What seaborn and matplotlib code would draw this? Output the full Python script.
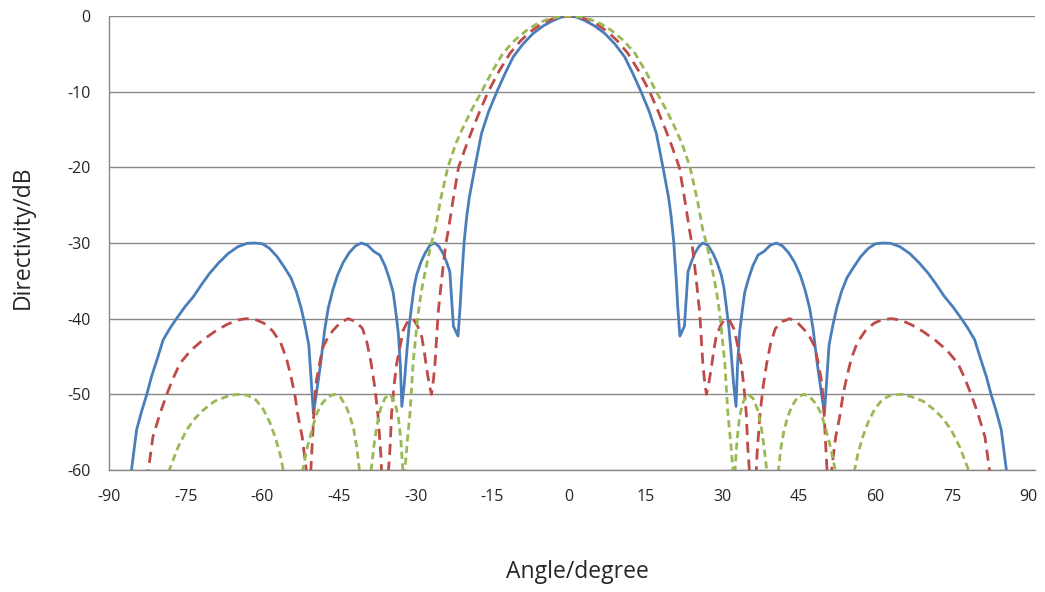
import numpy as np
import pandas as pd
import matplotlib
matplotlib.use("Agg")
import matplotlib.pyplot as plt
import seaborn as sns

# blue solid, -30 dB sidelobes
blue_deg = [-89, -85.6, -84.6, -83.6, -82.6, -81.7, -80.5, -79.4, -78.1, -76.8, -75.1, -73.5,
            -71.9, -70.3, -68.5, -66.7, -64.8, -63, -61.5, -60, -58.6, -57.1, -55.7, -54.4,
            -53.3, -52.4, -51.6, -50.9, -50.5, -50, -49.4, -48.6, -47.8, -47.1, -46.2, -45.3,
            -44.2, -43, -41.8, -40.6, -39.4, -38.2, -37, -36, -35.2, -34.4, -33.9, -33.4,
            -33, -32.7, -32.2, -31.8, -31.3, -30.8, -30.3, -29.8, -29, -28.2, -27.2, -26.2,
            -25.4, -24.6, -23.9, -23.3, -23, -22.6, -21.7, -21.3, -21, -20.5, -20, -19.5,
            -18.4, -17.1, -15.7, -14.1, -12.5, -10.9, -9, -7, -5, -3.1, -1.5, 0,
            1.5, 3.1, 5, 7, 9, 10.9, 12.5, 14.1, 15.7, 17.1, 18.4, 19.5, 20, 20.5, 21, 21.3,
            21.7, 22.6, 23, 23.3, 23.9, 24.6, 25.4, 26.2, 27.2, 28.2, 29, 29.8, 30.3, 30.8,
            31.3, 31.8, 32.2, 32.7, 33, 33.4, 33.9, 34.4, 35.2, 36, 37, 38.2, 39.4, 40.6,
            41.8, 43, 44.2, 45.3, 46.2, 47.1, 47.8, 48.6, 49.4, 50, 50.5, 50.9, 51.6, 52.4,
            53.3, 54.4, 55.7, 57.1, 58.6, 60, 61.5, 63, 64.8, 66.7, 68.5, 70.3, 71.9, 73.5,
            75.1, 76.8, 78.1, 79.4, 80.5, 81.7, 82.6, 83.6, 84.6, 85.6, 89]
blue_db = [-75, -60, -54.7, -52.2, -50, -47.7, -45.2, -42.8, -41.3, -40, -38.4, -37.1,
           -35.5, -34, -32.6, -31.4, -30.5, -30.05, -30, -30.1, -30.7, -31.8, -33.2, -34.6,
           -36.5, -38.6, -41, -43.5, -47.5, -52.5, -49.8, -46, -41.5, -38.6, -36.2, -34.3,
           -32.6, -31.3, -30.4, -30, -30.3, -31.1, -31.6, -33, -34.6, -36.5, -39, -41.8,
           -46, -51.6, -48.5, -45, -41.2, -38.4, -35.8, -34.2, -32.6, -31.4, -30.3, -30,
           -30.5, -31.4, -32.6, -33.8, -37, -41, -42.3, -38.5, -34.9, -29.8, -26.5, -24,
           -20, -15.5, -12.6, -10, -7.6, -5.4, -3.7, -2.3, -1.3, -0.6, -0.15, 0,
           -0.15, -0.6, -1.3, -2.3, -3.7, -5.4, -7.6, -10, -12.6, -15.5, -20, -24, -26.5,
           -29.8, -34.9, -38.5, -42.3, -41, -37, -33.8, -32.6, -31.4, -30.5, -30, -30.3,
           -31.4, -32.6, -34.2, -35.8, -38.4, -41.2, -45, -48.5, -51.6, -46, -41.8, -39,
           -36.5, -34.6, -33, -31.6, -31.1, -30.3, -30, -30.4, -31.3, -32.6, -34.3, -36.2,
           -38.6, -41.5, -46, -49.8, -52.5, -47.5, -43.5, -41, -38.6, -36.5, -34.6, -33.2,
           -31.8, -30.7, -30.1, -30, -30.05, -30.5, -31.4, -32.6, -34, -35.5, -37.1, -38.4,
           -40, -41.3, -42.8, -45.2, -47.7, -50, -52.2, -54.7, -60, -75]

# red dashed, -40 dB sidelobes
red_deg = [-88, -82.3, -81.4, -80, -78.7, -77.4, -76.1, -74, -71.6, -69.3, -67, -65,
           -63.2, -61.4, -59.7, -58, -56.4, -55.3, -54.4, -53.6, -53, -52.2, -51.4, -50.9,
           -50.5, -49.8, -49.4, -48.7, -48.1, -47.1, -46.1, -44.7, -43.2, -41.7, -40.4, -39.5,
           -38.7, -38, -37.4, -36.8, -36.2, -35.3, -35, -34.7, -34.2, -33.7, -33, -32.4,
           -31.5, -30.5, -29.6, -28.8, -28.3, -27.8, -27.3, -26.9, -26.5, -26.2, -25.6, -25.1,
           -24.6, -24.1, -23.6, -22.6, -21.6, -20.3, -18.9, -17.4, -15.8, -13.6, -11.5, -9.5,
           -7.6, -5.5, -3.5, -1.7, 0,
           1.7, 3.5, 5.5, 7.6, 9.5, 11.5, 13.6, 15.8, 17.4, 18.9, 20.3, 21.6, 22.6, 23.6,
           24.1, 24.6, 25.1, 25.6, 26.2, 26.5, 26.9, 27.3, 27.8, 28.3, 28.8, 29.6, 30.5, 31.5,
           32.4, 33, 33.7, 34.2, 34.7, 35, 35.3, 36.2, 36.8, 37.4, 38, 38.7, 39.5, 40.4,
           41.7, 43.2, 44.7, 46.1, 47.1, 48.1, 48.7, 49.4, 49.8, 50.5, 50.9, 51.4, 52.2, 53,
           53.6, 54.4, 55.3, 56.4, 58, 59.7, 61.4, 63.2, 65, 67, 69.3, 71.6, 74, 76.1,
           77.4, 78.7, 80, 81.4, 82.3, 88]
red_db = [-75, -60, -55.6, -52.5, -50, -47.8, -45.9, -44.2, -42.8, -41.7, -40.8, -40.2,
          -40, -40.1, -40.6, -41.6, -43.2, -45.2, -47.6, -50.2, -52.9, -55.6, -60, -68,
          -60, -51, -48.1, -45.6, -43.7, -42.4, -41.5, -40.5, -40, -40.4, -41.3, -43.2,
          -45.9, -49, -52.5, -58, -68, -60, -57, -52.5, -48.7, -45.9, -43.5, -41.5,
          -40.3, -40, -41, -42.4, -44.4, -46.8, -48.8, -50, -48, -45.9, -39.3, -36,
          -33, -30.2, -28.3, -24, -20, -17.5, -15, -12.5, -10, -7.2, -4.9, -3.3,
          -2.1, -1.1, -0.45, -0.1, 0,
          -0.1, -0.45, -1.1, -2.1, -3.3, -4.9, -7.2, -10, -12.5, -15, -17.5, -20, -24, -28.3,
          -30.2, -33, -36, -39.3, -45.9, -48, -50, -48.8, -46.8, -44.4, -42.4, -41, -40, -40.3,
          -41.5, -43.5, -45.9, -48.7, -52.5, -57, -60, -68, -58, -52.5, -49, -45.9, -43.2, -41.3,
          -40.4, -40, -40.5, -41.5, -42.4, -43.7, -45.6, -48.1, -51, -60, -68, -60, -55.6, -52.9,
          -50.2, -47.6, -45.2, -43.2, -41.6, -40.6, -40.1, -40, -40.2, -40.8, -41.7, -42.8, -44.2, -45.9,
          -47.8, -50, -52.5, -55.6, -60, -75]

# green dashed, -50 dB sidelobes
green_deg = [-85, -78.2, -76.5, -74.8, -73.2, -71.6, -69.3, -67, -65, -63, -61.3, -59.8,
             -58.6, -57.5, -56.5, -55.9, -54, -52.1, -51.2, -50.3, -49.4, -48.3, -47.1, -45.9,
             -44.7, -43.6, -42.8, -42.1, -41.5, -41, -39.8, -38.7, -38.2, -37.6, -36.9, -36,
             -35, -34.1, -33.4, -32.9, -32.5, -32.3, -32.1, -31.6, -31.1, -30.5, -30, -29.5,
             -28.9, -28.2, -27.5, -26.9, -26.2, -25.1, -23.7, -22.1, -20.5, -18.8, -17.1, -15,
             -12.9, -10.6, -8.3, -6.3, -4.4, -2.2, 0,
             2.2, 4.4, 6.3, 8.3, 10.6, 12.9, 15, 17.1, 18.8, 20.5, 22.1, 23.7, 25.1, 26.2,
             26.9, 27.5, 28.2, 28.9, 29.5, 30, 30.5, 31.1, 31.6, 32.1, 32.3, 32.5, 32.9, 33.4,
             34.1, 35, 36, 36.9, 37.6, 38.2, 38.7, 39.8, 41, 41.5, 42.1, 42.8, 43.6, 44.7,
             45.9, 47.1, 48.3, 49.4, 50.3, 51.2, 52.1, 54, 55.9, 56.5, 57.5, 58.6, 59.8, 61.3,
             63, 65, 67, 69.3, 71.6, 73.2, 74.8, 76.5, 78.2, 85]
green_db = [-75, -60, -57, -54.7, -53.2, -52.1, -50.9, -50.3, -50, -50.1, -50.7, -52,
            -53.6, -55.6, -58, -60, -75, -60, -57, -54.7, -52.6, -51.2, -50.3, -50,
            -50.4, -51.6, -53, -54.7, -57, -60, -75, -60, -57, -54.2, -52, -50.5,
            -50, -51, -52.9, -56, -60, -70, -60, -56, -52.5, -45.9, -42.5, -39.3,
            -36.5, -34, -31.8, -30, -28.3, -24.2, -20, -16.8, -14.4, -12.1, -10, -7.3,
            -4.9, -3.2, -1.9, -1.05, -0.5, -0.12, 0,
            -0.12, -0.5, -1.05, -1.9, -3.2, -4.9, -7.3, -10, -12.1, -14.4, -16.8, -20, -24.2, -28.3,
            -30, -31.8, -34, -36.5, -39.3, -42.5, -45.9, -52.5, -56, -60, -70, -60, -56, -52.9,
            -51, -50, -50.5, -52, -54.2, -57, -60, -75, -60, -57, -54.7, -53, -51.6, -50.4,
            -50, -50.3, -51.2, -52.6, -54.7, -57, -60, -75, -60, -58, -55.6, -53.6, -52, -50.7,
            -50.1, -50, -50.3, -50.9, -52.1, -53.2, -54.7, -57, -60, -75]

x_ticks = [-90, -75, -60, -45, -30, -15, 0, 15, 30, 45, 60, 75, 90]
y_ticks = [-60, -50, -40, -30, -20, -10, 0]

df = pd.concat([
    pd.DataFrame({"angle": blue_deg, "db": blue_db, "series": "sll30"}),
    pd.DataFrame({"angle": red_deg, "db": red_db, "series": "sll40"}),
    pd.DataFrame({"angle": green_deg, "db": green_db, "series": "sll50"}),
], ignore_index=True)

sns.set_style("white")
plt.rcParams["font.family"] = ["Open Sans", "DejaVu Sans"]
plt.rcParams["axes.unicode_minus"] = False

fig = plt.figure(figsize=(10.45, 5.92), dpi=100)
ax = fig.add_axes([109 / 1045, 1 - 470 / 592, (1035 - 109) / 1045, (470 - 16) / 592])

palette = {"sll30": "#4A7EBB", "sll40": "#BE4B48", "sll50": "#98B954"}
dashes = {"sll30": "", "sll40": (4, 2.4), "sll50": (2.6, 1.6)}
sns.lineplot(data=df, x="angle", y="db", hue="series", style="series",
             palette=palette, dashes=dashes, sort=False, estimator=None,
             linewidth=2.0, legend=False, ax=ax)

ax.set_xlim(-90, 91.2)
ax.set_ylim(-60, 0)
ax.set_xticks(x_ticks)
ax.set_yticks(y_ticks)
ax.yaxis.grid(True, color="#868686", linewidth=1.0)
ax.xaxis.grid(False)
for s in ["top", "right"]:
    ax.spines[s].set_visible(False)
ax.spines["left"].set_color("#868686")
ax.spines["bottom"].set_color("#868686")
ax.spines["left"].set_linewidth(1.0)
ax.spines["bottom"].set_linewidth(1.0)
ax.tick_params(axis="y", length=4.5, width=1.0, color="#868686", pad=9, labelsize=11.5)
ax.tick_params(axis="x", length=0, pad=14, labelsize=11.5)
ax.set_xlabel("")
ax.set_ylabel("")

fig.text(577 / 1045, 1 - 572 / 592, "Angle/degree", ha="center", va="center", fontsize=16.5)
fig.text(23 / 1045, 1 - 237 / 592, "Directivity/dB", ha="center", va="center",
         rotation=90, fontsize=16.5)

fig.savefig("out.png", dpi=100)
